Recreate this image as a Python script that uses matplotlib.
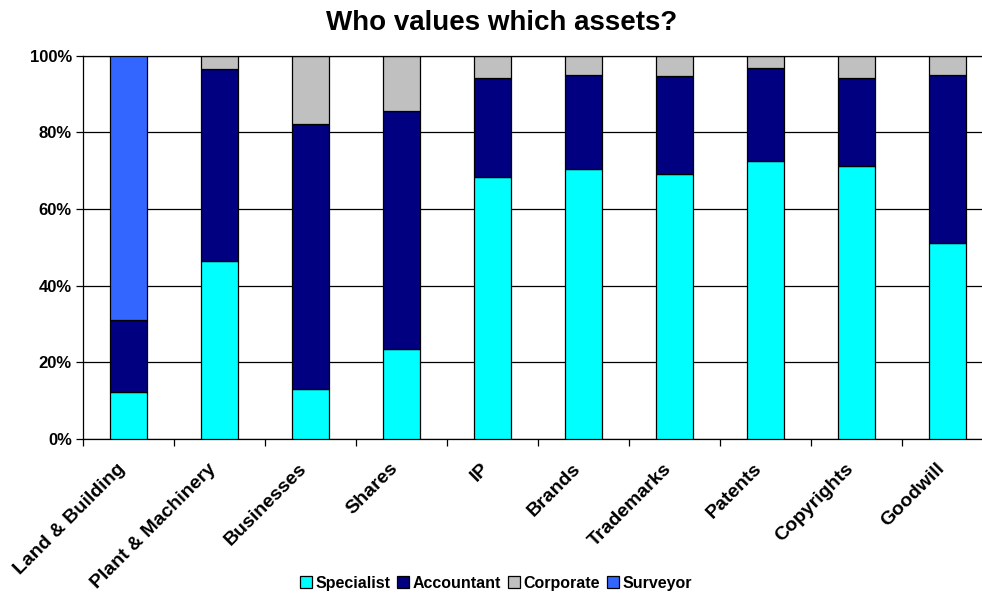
import numpy as np
import matplotlib.pyplot as plt
from matplotlib.patches import Patch

plt.rcParams['font.family'] = ['Liberation Sans', 'DejaVu Sans']

categories = ["Land & Building", "Plant & Machinery", "Businesses", "Shares", "IP",
              "Brands", "Trademarks", "Patents", "Copyrights", "Goodwill"]
specialist = [12.3, 46.5, 13.0, 23.5, 68.5, 70.5, 69.1, 72.6, 71.3, 51.1]
accountant = [18.8, 50.0, 69.2, 62.1, 25.7, 24.5, 25.6, 24.3, 22.9, 43.9]
corporate = [0.0, 3.5, 17.8, 14.4, 5.8, 5.0, 5.3, 3.1, 5.8, 5.0]
surveyor = [68.9, 0.0, 0.0, 0.0, 0.0, 0.0, 0.0, 0.0, 0.0, 0.0]

series = [("Specialist", specialist, "#00FFFF"),
          ("Accountant", accountant, "#000080"),
          ("Corporate", corporate, "#C0C0C0"),
          ("Surveyor", surveyor, "#3366FF")]

fig = plt.figure(figsize=(9.82, 5.94), dpi=100)
ax = fig.add_axes([0.0845, 0.261, 0.9155, 0.645])

x = np.arange(len(categories))
bottom = np.zeros(len(categories))
for name, vals, col in series:
    vals = np.array(vals)
    ax.bar(x, vals, 0.4, bottom=bottom, color=col, edgecolor='black', linewidth=0.9, zorder=3)
    bottom += vals

ax.set_ylim(0, 100)
ax.set_xlim(-0.5, 9.38)
ax.set_yticks([0, 20, 40, 60, 80, 100])
ax.set_yticklabels([f"{v}%" for v in [0, 20, 40, 60, 80, 100]], fontsize=12, fontweight='bold')
ax.yaxis.grid(True, color='black', linewidth=0.9, zorder=0)
ax.tick_params(axis='y', length=5, width=0.9, direction='out', pad=3)

# ticks between categories
ax.set_xticks(np.arange(len(categories)) - 0.5)
ax.set_xticklabels([])
ax.tick_params(axis='x', length=5, width=0.9, direction='out')
for i, c in enumerate(categories):
    ax.text(i - 0.13, -5.5, c, rotation=45, ha='right', va='top', rotation_mode='anchor',
            fontsize=14, fontweight='bold', transform=ax.transData)

ax.spines['right'].set_visible(False)
for s in ['top', 'left', 'bottom']:
    ax.spines[s].set_linewidth(0.9)

fig.text(0.511, 0.962, "Who values which assets?", ha='center', va='center',
         fontsize=20, fontweight='bold')

handles = [Patch(facecolor=col, edgecolor='black', linewidth=0.9) for _, _, col in series]
fig.legend(handles, [n for n, _, _ in series], loc='center', bbox_to_anchor=(0.505, 0.018),
           ncol=4, frameon=False, prop={'weight': 'bold', 'size': 11.5},
           handlelength=0.75, handleheight=0.75, handletextpad=0.25, columnspacing=0.4)

fig.savefig("out.png", dpi=100)
